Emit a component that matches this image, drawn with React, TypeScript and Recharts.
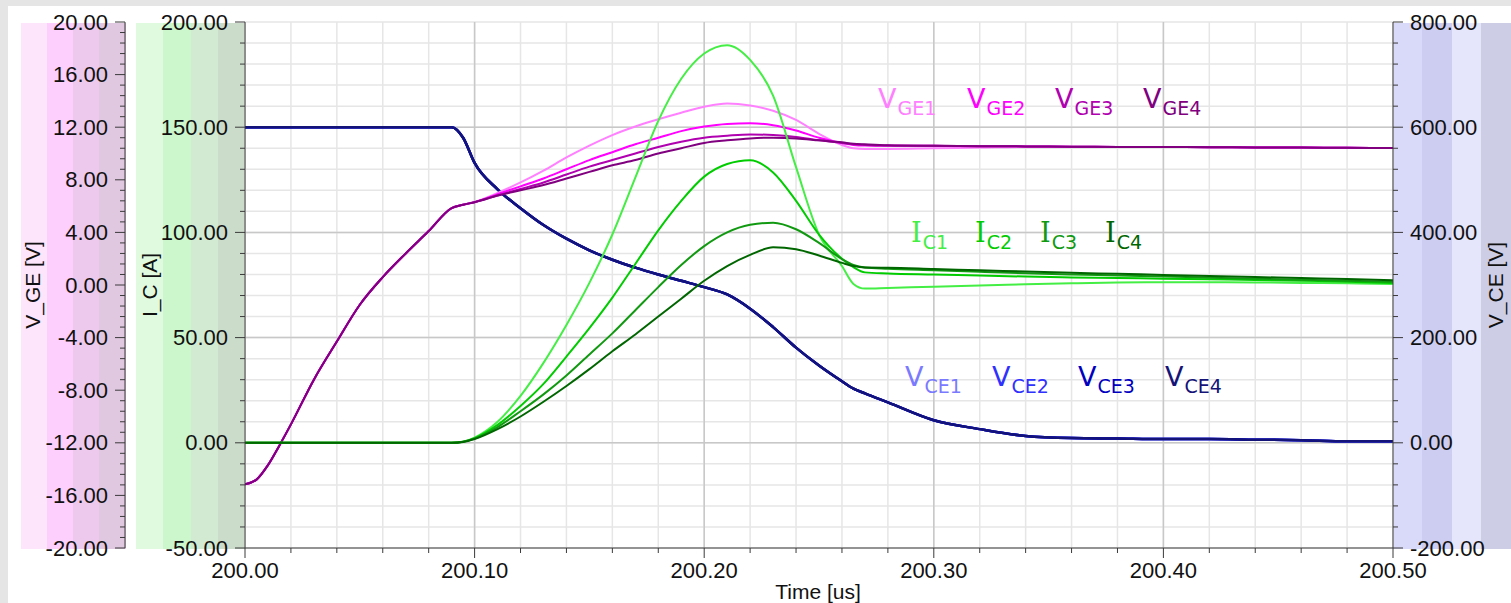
import React from "react";
import {
  LineChart,
  Line,
  XAxis,
  YAxis,
  CartesianGrid,
  ReferenceLine,
} from "recharts";

// time axis [us]
const time = [
  200.0, 200.005, 200.01, 200.015, 200.02, 200.03, 200.04, 200.05, 200.06, 200.07,
  200.08, 200.09, 200.095, 200.1, 200.11, 200.12, 200.13, 200.14, 200.15, 200.16,
  200.17, 200.18, 200.19, 200.2, 200.21, 200.22, 200.23, 200.24, 200.25, 200.26,
  200.265, 200.27, 200.28, 200.3, 200.32, 200.34, 200.36, 200.38, 200.4, 200.42,
  200.44, 200.46, 200.48, 200.5,
];

// gate-emitter voltage [V]
const vge1 = [
  -15.15, -14.8, -13.7, -12.2, -10.6, -7.2, -4.3, -1.5, 0.6, 2.4,
  4.1, 5.85, 6.1, 6.3, 7.0, 7.8, 8.7, 9.7, 10.6, 11.4,
  12.05, 12.6, 13.1, 13.55, 13.8, 13.65, 13.25, 12.55, 11.5, 10.65,
  10.4, 10.35, 10.35, 10.4, 10.45, 10.5, 10.5, 10.5, 10.49, 10.48,
  10.46, 10.45, 10.43, 10.42,
];
const vge2 = [
  -15.15, -14.8, -13.7, -12.2, -10.6, -7.2, -4.3, -1.5, 0.6, 2.4,
  4.1, 5.85, 6.1, 6.3, 6.9, 7.5, 8.1, 8.8, 9.5, 10.1,
  10.7, 11.2, 11.7, 12.05, 12.25, 12.3, 12.15, 11.75, 11.2, 10.8,
  10.65, 10.6, 10.58, 10.58, 10.56, 10.54, 10.52, 10.5, 10.49, 10.48,
  10.46, 10.45, 10.43, 10.42,
];
const vge3 = [
  -15.15, -14.8, -13.7, -12.2, -10.6, -7.2, -4.3, -1.5, 0.6, 2.4,
  4.1, 5.85, 6.1, 6.3, 6.8, 7.3, 7.8, 8.4, 9.0, 9.5,
  10.0, 10.5, 10.9, 11.2, 11.35, 11.45, 11.4, 11.25, 11.0, 10.8,
  10.7, 10.65, 10.6, 10.58, 10.56, 10.54, 10.52, 10.5, 10.49, 10.48,
  10.46, 10.45, 10.43, 10.42,
];
const vge4 = [
  -15.15, -14.8, -13.7, -12.2, -10.6, -7.2, -4.3, -1.5, 0.6, 2.4,
  4.1, 5.85, 6.1, 6.3, 6.8, 7.2, 7.6, 8.1, 8.6, 9.1,
  9.5, 10.0, 10.4, 10.8, 11.0, 11.15, 11.2, 11.15, 11.0, 10.85,
  10.75, 10.7, 10.62, 10.58, 10.56, 10.54, 10.52, 10.5, 10.49, 10.48,
  10.46, 10.45, 10.43, 10.42,
];

// collector current [A]
const ic1 = [
  0, 0, 0, 0, 0, 0, 0, 0, 0, 0,
  0, 0, 0.5, 2.5, 10, 22.3, 38, 56, 76, 99,
  126, 153, 173, 185, 189, 182, 165, 131, 99, 84,
  75.5, 73.3, 73.6, 74.2, 74.8, 75.3, 75.8, 76.2, 76.3, 76.3,
  76.2, 76, 75.8, 75.5,
];
const ic2 = [
  0, 0, 0, 0, 0, 0, 0, 0, 0, 0,
  0, 0, 0.5, 2.2, 8.5, 17.5, 28, 41, 54.5, 69,
  85, 101, 115, 126.5, 132.5, 134.3, 128.5, 115, 99, 87.5,
  83.5, 81, 80.5, 80, 79.5, 79, 78.6, 78.3, 78, 77.7,
  77.4, 77, 76.6, 76,
];
const ic3 = [
  0, 0, 0, 0, 0, 0, 0, 0, 0, 0,
  0, 0, 0.5, 2.0, 7.5, 15, 23, 32, 42, 52,
  63, 74, 84.5, 93.5, 100, 103.6, 104.6, 101.5, 95, 87.3,
  84.5, 83.3, 82.7, 82, 81.3, 80.6, 80, 79.5, 79, 78.5,
  78, 77.5, 77, 76.5,
];
const ic4 = [
  0, 0, 0, 0, 0, 0, 0, 0, 0, 0,
  0, 0, 0.4, 1.8, 6.5, 12.5, 19.5, 27, 35, 43.5,
  51.5, 60, 68.5, 77, 84, 89.3, 92.9, 92, 89, 85.5,
  84, 83.3, 83.2, 82.6, 82, 81.4, 80.8, 80.3, 79.8, 79.3,
  78.8, 78.3, 77.8, 77.2,
];

// collector-emitter voltage [V] (all four traces lie on top of each other)
const vceAll = [
  600, 600, 600, 600, 600, 600, 600, 600, 600, 600,
  600, 600, 580, 532, 482, 446, 414, 388, 366, 348,
  333, 320, 308, 296, 282, 255, 220, 181, 147, 117,
  103, 94, 77, 43, 26, 13, 9, 8, 7, 7,
  6, 5, 3, 3,
];

const vgeMajor = [-20, -16, -12, -8, -4, 0, 4, 8, 12, 16, 20];
const icMajor = [-50, 0, 50, 100, 150, 200];
const vceMajor = [-200, 0, 200, 400, 600, 800];
const timeMajor = [200.0, 200.1, 200.2, 200.3, 200.4, 200.5];

const vgeNames = ["GE1", "GE2", "GE3", "GE4"];
const icNames = ["C1", "C2", "C3", "C4"];
const vceNames = ["CE1", "CE2", "CE3", "CE4"];

const vgeColors = ["#ff80ff", "#ff00ff", "#b000b0", "#800080"];
const icColors = ["#44ee44", "#00cc00", "#119911", "#006600"];
const vceColors = ["#7a7aff", "#3030ff", "#0000c0", "#141478"];

const data = time.map((t, i) => ({
  t,
  vge1: vge1[i],
  vge2: vge2[i],
  vge3: vge3[i],
  vge4: vge4[i],
  ic1: ic1[i],
  ic2: ic2[i],
  ic3: ic3[i],
  ic4: ic4[i],
  vce1: vceAll[i],
  vce2: vceAll[i],
  vce3: vceAll[i],
  vce4: vceAll[i],
}));

// add minor ticks between the major ones
function withMinor(major: number[], parts: number) {
  const out: number[] = [];
  for (let i = 0; i < major.length - 1; i++) {
    const step = (major[i + 1] - major[i]) / parts;
    for (let k = 0; k < parts; k++) out.push(+(major[i] + k * step).toFixed(6));
  }
  out.push(major[major.length - 1]);
  return out;
}

const isMajor = (major: number[], v: number) =>
  major.some((m) => Math.abs(m - v) < 1e-6);

const FONT = "'Liberation Sans', Arial, sans-serif";
const AXIS = "#3a3a3a";

const makeYTick = (side: "left" | "right", major: number[]) => (props: any) => {
  const { x, y, payload } = props;
  const big = isMajor(major, payload.value);
  const dir = side === "left" ? -1 : 1;
  return (
    <g>
      <line x1={x} x2={x + dir * (big ? 10 : 5)} y1={y} y2={y} stroke={AXIS} />
      {big && (
        <text
          x={x + dir * 17}
          y={y}
          textAnchor={side === "left" ? "end" : "start"}
          dominantBaseline="central"
          fontFamily={FONT}
          fontSize={22}
          fill="#111"
        >
          {Number(payload.value).toFixed(2)}
        </text>
      )}
    </g>
  );
};

const XTick = (props: any) => {
  const { x, y, payload } = props;
  const big = isMajor(timeMajor, payload.value);
  return (
    <g>
      <line x1={x} x2={x} y1={y} y2={y + (big ? 10 : 5)} stroke={AXIS} />
      {big && (
        <text
          x={x}
          y={y + 22}
          textAnchor="middle"
          dominantBaseline="central"
          fontFamily={FONT}
          fontSize={22}
          fill="#111"
        >
          {Number(payload.value).toFixed(2)}
        </text>
      )}
    </g>
  );
};

const bandsVge = ["#fde5fb", "#fdcffd", "#edcaed", "#e1c8e1"];
const bandsIc = ["#e0fae0", "#ccf6cc", "#d1ead1", "#cbdccb"];
const bandsVce = ["#d9d9fa", "#cdcdf2", "#e5e5fb", "#cdcde6"];

const Band = ({ x, w, colors }: { x: number; w: number; colors: string[] }) => (
  <>
    {colors.map((c, i) => (
      <div
        key={i}
        style={{
          position: "absolute",
          left: x + (i * w) / colors.length,
          width: w / colors.length + 0.5,
          top: 23,
          height: 526,
          background: c,
        }}
      />
    ))}
  </>
);

const LegendRow = ({
  main,
  names,
  colors,
  xs,
  y,
  mono,
}: {
  main: string;
  names: string[];
  colors: string[];
  xs: number[];
  y: number;
  mono?: boolean;
}) => (
  <>
    {names.map((n, i) => (
      <text key={n} x={xs[i]} y={y} fill={colors[i]} fontFamily="'DejaVu Sans', Verdana, sans-serif" fontSize={27}>
        <tspan fontFamily={mono ? "'DejaVu Serif', serif" : undefined}>{main}</tspan>
        <tspan dx={1} dy={7} fontSize={19}>
          {n}
        </tspan>
      </text>
    ))}
  </>
);

export default function App() {
  const vgeTicks = withMinor(vgeMajor, 5);
  const icTicks = withMinor(icMajor, 5);
  const vceTicks = withMinor(vceMajor, 5);
  const timeTicks = withMinor(timeMajor, 5);

  return (
    <div style={{ position: "relative", width: 1511, height: 603, background: "#e5e5e5", overflow: "hidden" }}>
      <style>{"body{margin:0}"}</style>
      <div style={{ position: "absolute", left: 8, top: 6, width: 1503, height: 597, background: "#fff" }} />
      <Band x={21} w={104} colors={bandsVge} />
      <Band x={136} w={109} colors={bandsIc} />
      <Band x={1393} w={117} colors={bandsVce} />

      <div style={{ position: "absolute", left: 0, top: 0 }}>
        <LineChart
          width={1511}
          height={603}
          data={data}
          margin={{ top: 22, right: 0, bottom: 0, left: 21 }}
        >
          <CartesianGrid yAxisId="ic" stroke="#e6e6e6" strokeWidth={1.5} />
          {icMajor.slice(1, -1).map((v) => (
            <ReferenceLine key={"h" + v} yAxisId="ic" y={v} stroke="#c8c8c8" strokeWidth={1.5} />
          ))}
          {timeMajor.slice(1, -1).map((v) => (
            <ReferenceLine key={"v" + v} yAxisId="ic" x={v} stroke="#c8c8c8" strokeWidth={1.5} />
          ))}
          <XAxis
            dataKey="t"
            type="number"
            domain={[200, 200.5]}
            ticks={timeTicks}
            interval={0}
            allowDataOverflow
            height={55}
            tickSize={0}
            tickMargin={0}
            tickLine={false}
            axisLine={{ stroke: AXIS }}
            tick={XTick}
          />
          <YAxis
            yAxisId="ic"
            orientation="left"
            type="number"
            domain={[-50, 200]}
            ticks={icTicks}
            interval={0}
            allowDataOverflow
            width={120}
            tickSize={0}
            tickMargin={0}
            tickLine={false}
            axisLine={{ stroke: AXIS }}
            tick={makeYTick("left", icMajor)}
          />
          <YAxis
            yAxisId="vge"
            orientation="left"
            type="number"
            domain={[-20, 20]}
            ticks={vgeTicks}
            interval={0}
            allowDataOverflow
            width={104}
            tickSize={0}
            tickMargin={0}
            tickLine={false}
            axisLine={{ stroke: AXIS }}
            tick={makeYTick("left", vgeMajor)}
          />
          <YAxis
            yAxisId="vce"
            orientation="right"
            type="number"
            domain={[-200, 800]}
            ticks={vceTicks}
            interval={0}
            allowDataOverflow
            width={118}
            tickSize={0}
            tickMargin={0}
            tickLine={false}
            axisLine={{ stroke: AXIS }}
            tick={makeYTick("right", vceMajor)}
          />
          {[1, 2, 3, 4].map((n) => (
            <Line
              key={"vce" + n}
              yAxisId="vce"
              dataKey={"vce" + n}
              type="monotone"
              stroke={vceColors[n - 1]}
              strokeWidth={2.5}
              dot={false}
              isAnimationActive={false}
            />
          ))}
          {[1, 2, 3, 4].map((n) => (
            <Line
              key={"vge" + n}
              yAxisId="vge"
              dataKey={"vge" + n}
              type="monotone"
              stroke={vgeColors[n - 1]}
              strokeWidth={2}
              dot={false}
              isAnimationActive={false}
            />
          ))}
          {[1, 2, 3, 4].map((n) => (
            <Line
              key={"ic" + n}
              yAxisId="ic"
              dataKey={"ic" + n}
              type="monotone"
              stroke={icColors[n - 1]}
              strokeWidth={2}
              dot={false}
              isAnimationActive={false}
            />
          ))}
        </LineChart>
      </div>

      <svg
        width={1511}
        height={603}
        style={{ position: "absolute", left: 0, top: 0, pointerEvents: "none" }}
      >
        <g fontFamily={FONT} fontSize={21} fill="#111">
          <text x={32} y={285} textAnchor="middle" dominantBaseline="central" transform="rotate(-90 32 285)">
            V_GE [V]
          </text>
          <text x={149} y={285} textAnchor="middle" dominantBaseline="central" transform="rotate(-90 149 285)">
            I_C [A]
          </text>
          <text x={1495} y={285} textAnchor="middle" dominantBaseline="central" transform="rotate(-90 1495 285)">
            V_CE [V]
          </text>
          <text x={818} y={599} textAnchor="middle">
            Time [us]
          </text>
        </g>
        <LegendRow main="V" names={vgeNames} colors={vgeColors} xs={[878, 967, 1055, 1143]} y={108} />
        <LegendRow main="I" names={icNames} colors={icColors} xs={[911, 975, 1040, 1105]} y={242} mono />
        <LegendRow main="V" names={vceNames} colors={vceColors} xs={[905, 992, 1078, 1165]} y={386} />
      </svg>
    </div>
  );
}
